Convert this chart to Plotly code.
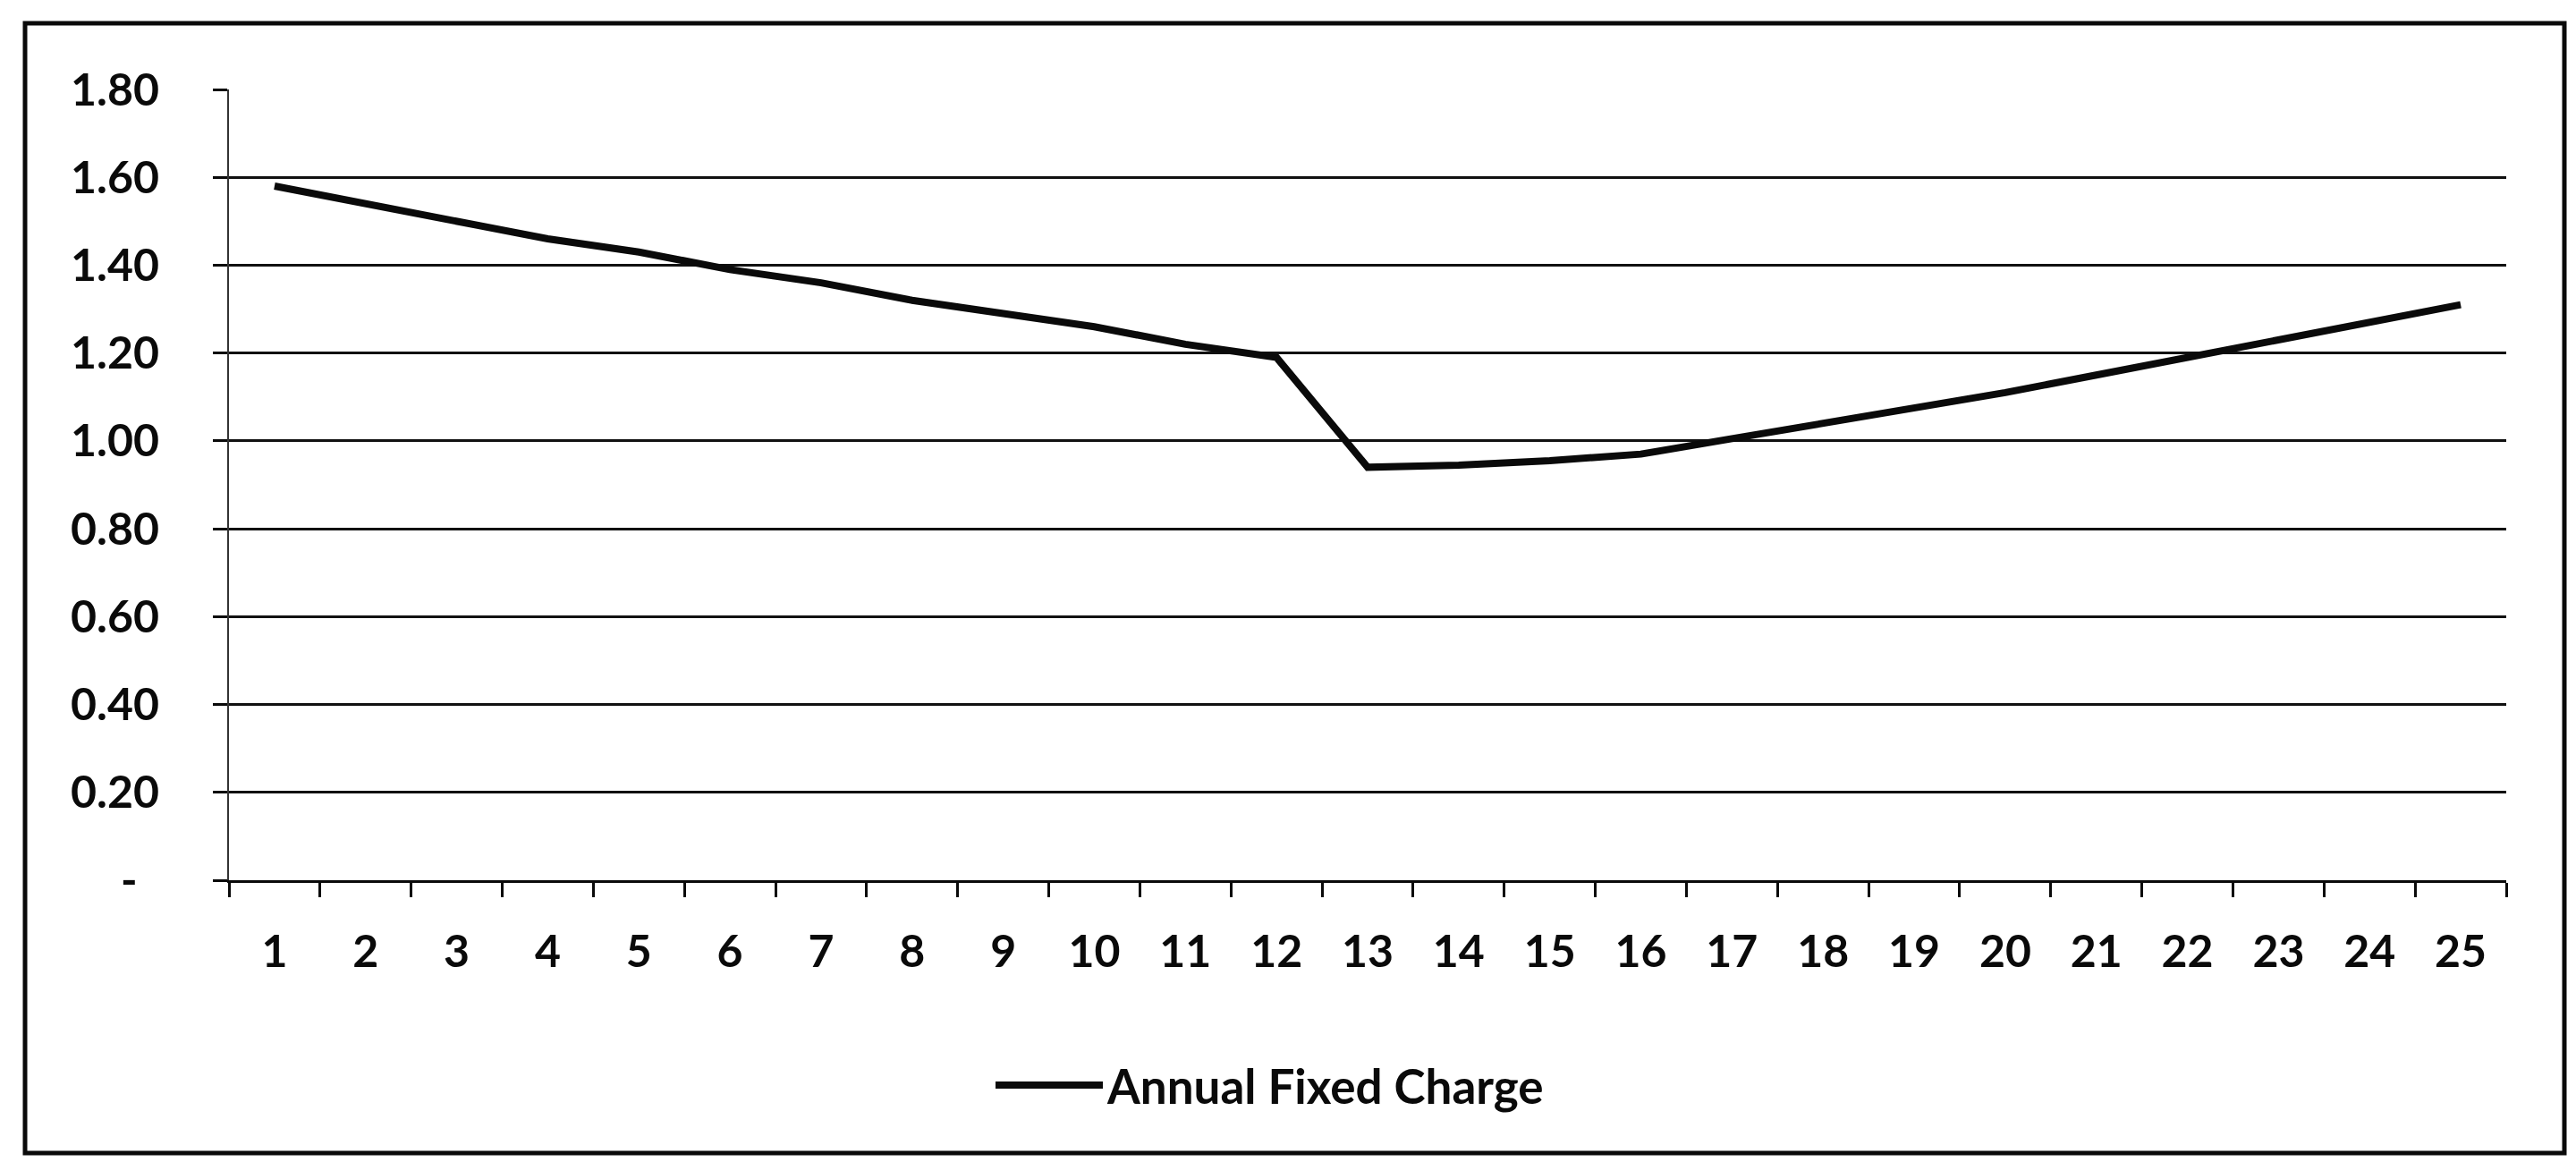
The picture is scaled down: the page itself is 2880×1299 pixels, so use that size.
import plotly.graph_objects as go

years = [str(i) for i in range(1, 26)]
annual_fixed_charge = [1.58, 1.54, 1.50, 1.46, 1.43, 1.39, 1.36, 1.32, 1.29, 1.26, 1.22, 1.19,
                       0.94, 0.945, 0.955, 0.97, 1.005, 1.04, 1.075, 1.11, 1.15, 1.19, 1.23, 1.27, 1.31]
y_tickvals = [0, 0.2, 0.4, 0.6, 0.8, 1.0, 1.2, 1.4, 1.6, 1.8]
y_ticktext = ["-\u00a0\u00a0", "0.20", "0.40", "0.60", "0.80", "1.00", "1.20", "1.40", "1.60", "1.80"]

W, H = 2880, 1299
L, R, T, B = 248, 2794, 92, 976

fig = go.Figure()
fig.add_trace(go.Scatter(
    x=years, y=annual_fixed_charge, mode="lines", name="Annual Fixed Charge",
    line=dict(color="#0a0a0a", width=8),
))

def px(x):
    return (x - L) / (R - L)

def py(y):
    return (B - y) / (B - T)

fig.update_layout(
    width=W, height=H,
    margin=dict(l=L, r=W - R, t=T, b=H - B),
    paper_bgcolor="white", plot_bgcolor="white",
    font=dict(family="Lato", color="#0a0a0a", size=50),
    showlegend=True,
    legend=dict(x=px(1100), y=py(1205), xanchor="left", yanchor="middle",
                orientation="h", font=dict(size=53, family="Lato", weight="bold"),
                itemwidth=120, bgcolor="rgba(0,0,0,0)"),
    xaxis=dict(type="category", tickson="boundaries", ticks="outside", ticklen=16,
               range=[-0.5, 24.5],
               tickwidth=3, tickcolor="#0a0a0a", showline=True, linecolor="#0a0a0a",
               linewidth=3, showgrid=False, ticklabelstandoff=34,
               tickfont=dict(size=50, family="Lato", weight="bold")),
    yaxis=dict(range=[0, 1.8], tickvals=y_tickvals, ticktext=y_ticktext,
               ticks="outside", ticklen=16, tickwidth=3, tickcolor="#0a0a0a",
               showline=True, linecolor="#333333", linewidth=2,
               showgrid=True, gridcolor="#111111", gridwidth=3,
               zeroline=False, ticklabelstandoff=50,
               tickfont=dict(size=50, family="Lato", weight="bold")),
    shapes=[dict(type="rect", xref="paper", yref="paper",
                 x0=px(20), x1=px(2859), y0=py(1281), y1=py(18),
                 line=dict(color="#0a0a0a", width=5), fillcolor="rgba(0,0,0,0)",
                 layer="below")],
)

fig.write_html("out.html")
